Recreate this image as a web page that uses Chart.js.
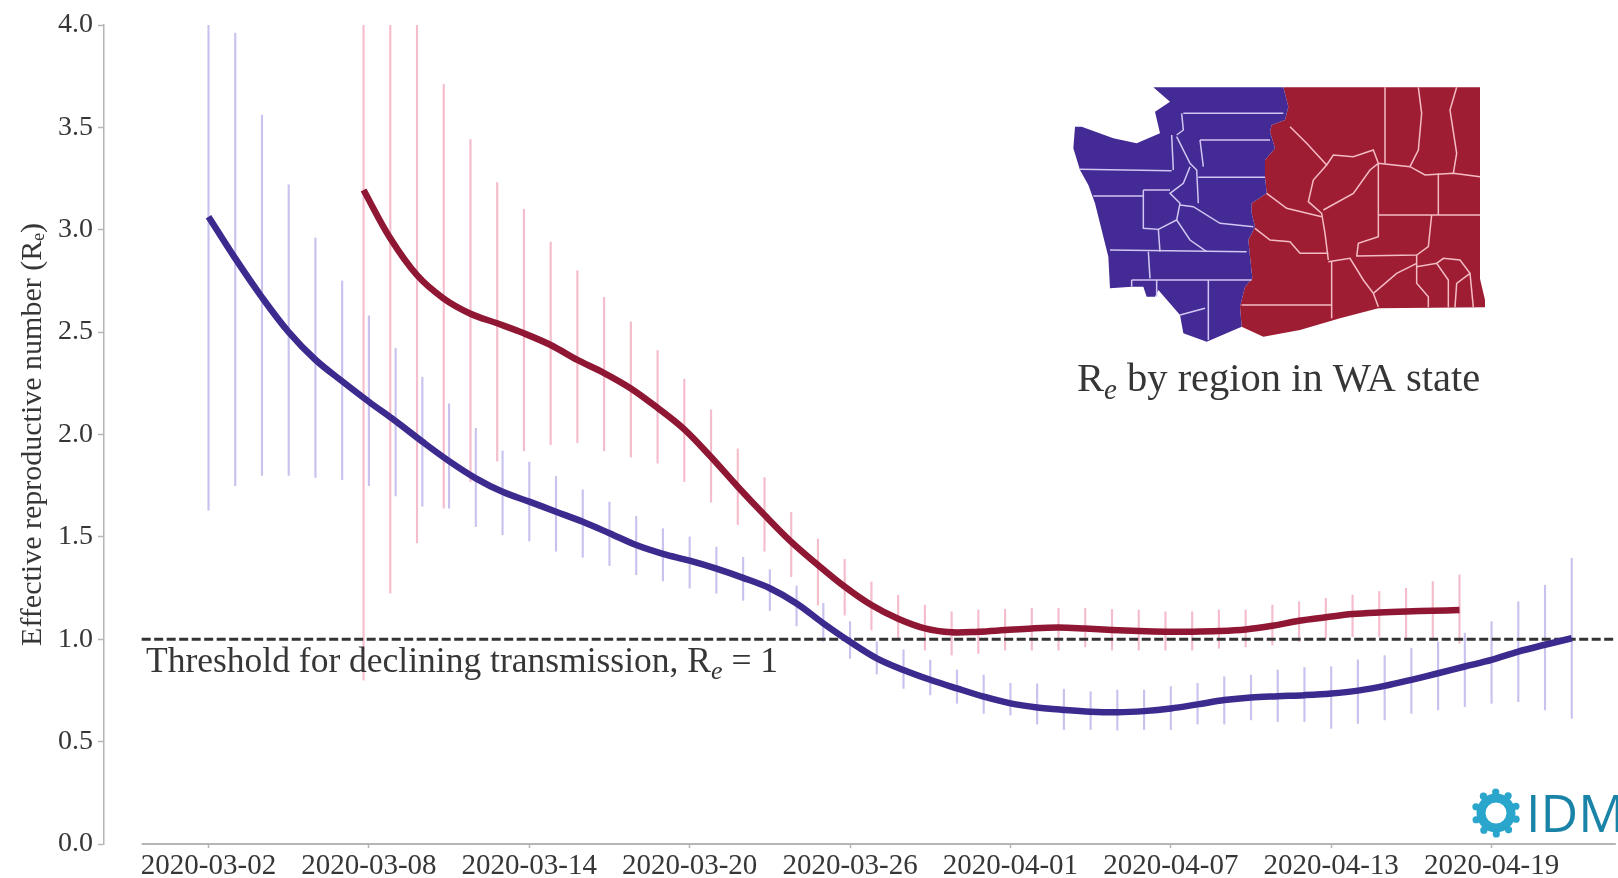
<!DOCTYPE html>
<html>
<head>
<meta charset="utf-8">
<title>Effective reproductive number by region in WA state</title>
<script src="https://cdn.jsdelivr.net/npm/chart.js@4/dist/chart.umd.min.js"></script>
<style>
html, body { margin: 0; padding: 0; background: #fff; overflow: hidden; }
canvas { display: block; filter: blur(0.7px); }
</style>
</head>
<body>
<canvas id="graph1" width="1618" height="878"></canvas>
<script>
// days since 2020-03-02 are used on the x axis
var tickDays = [0, 6, 12, 18, 24, 30, 36, 42, 48];
var tickLabels = ["2020-03-02", "2020-03-08", "2020-03-14", "2020-03-20", "2020-03-26", "2020-04-01", "2020-04-07", "2020-04-13", "2020-04-19"];
var yTicks = [0, 0.5, 1, 1.5, 2, 2.5, 3, 3.5, 4];

var blueStart = 0;
var blueMean = [3.064, 2.86, 2.67, 2.50, 2.365, 2.26, 2.16, 2.065, 1.965, 1.87, 1.786, 1.72, 1.672, 1.623, 1.574, 1.518, 1.46, 1.417, 1.384, 1.345, 1.30, 1.249, 1.175, 1.078, 0.988, 0.907, 0.85, 0.802, 0.76, 0.72, 0.687, 0.667, 0.655, 0.646, 0.643, 0.649, 0.662, 0.682, 0.703, 0.716, 0.722, 0.727, 0.735, 0.749, 0.772, 0.802, 0.834, 0.867, 0.899, 0.94, 0.973, 1.005];
var blueHigh = [4.0, 3.96, 3.56, 3.22, 2.96, 2.75, 2.58, 2.42, 2.28, 2.15, 2.03, 1.92, 1.865, 1.795, 1.73, 1.67, 1.60, 1.54, 1.50, 1.45, 1.40, 1.34, 1.26, 1.175, 1.086, 0.987, 0.948, 0.898, 0.85, 0.825, 0.785, 0.782, 0.756, 0.744, 0.752, 0.752, 0.769, 0.785, 0.817, 0.825, 0.85, 0.862, 0.866, 0.899, 0.92, 0.956, 0.987, 1.03, 1.086, 1.183, 1.264, 1.395];
var blueLow = [1.63, 1.75, 1.80, 1.80, 1.79, 1.78, 1.75, 1.70, 1.65, 1.64, 1.55, 1.51, 1.48, 1.43, 1.40, 1.36, 1.315, 1.285, 1.25, 1.225, 1.19, 1.14, 1.065, 0.99, 0.907, 0.83, 0.76, 0.728, 0.687, 0.638, 0.63, 0.586, 0.559, 0.559, 0.556, 0.559, 0.559, 0.586, 0.586, 0.606, 0.598, 0.598, 0.565, 0.589, 0.606, 0.638, 0.655, 0.671, 0.687, 0.695, 0.655, 0.614];

var redStart = 5.8;
var redMean = [3.194, 2.958, 2.778, 2.664, 2.59, 2.543, 2.494, 2.437, 2.364, 2.30, 2.225, 2.13, 2.025, 1.89, 1.745, 1.607, 1.476, 1.363, 1.257, 1.167, 1.10, 1.053, 1.034, 1.037, 1.045, 1.053, 1.057, 1.052, 1.045, 1.04, 1.037, 1.037, 1.04, 1.048, 1.066, 1.09, 1.107, 1.123, 1.131, 1.136, 1.139, 1.143];
var redHigh = [4.0, 4.0, 4.0, 3.71, 3.44, 3.23, 3.10, 2.94, 2.80, 2.67, 2.55, 2.41, 2.27, 2.12, 1.93, 1.79, 1.62, 1.49, 1.39, 1.28, 1.215, 1.167, 1.134, 1.143, 1.146, 1.151, 1.151, 1.151, 1.146, 1.143, 1.134, 1.134, 1.143, 1.143, 1.167, 1.183, 1.2, 1.216, 1.233, 1.249, 1.282, 1.314];
var redLow = [0.80, 1.225, 1.47, 1.64, 1.77, 1.87, 1.92, 1.95, 1.96, 1.92, 1.89, 1.86, 1.77, 1.67, 1.56, 1.43, 1.306, 1.167, 1.118, 1.045, 1.0, 0.947, 0.923, 0.931, 0.947, 0.947, 0.947, 0.963, 0.947, 0.947, 0.947, 0.947, 0.956, 0.963, 0.972, 0.988, 1.004, 1.013, 1.013, 1.004, 1.004, 0.98];

var threshold = 1;
var thresholdLabel = "Threshold for declining transmission, R";
var mapLabel = " by region in WA state";

// WA map outlines, traced in a 3x grid anchored at the map corner
var purpleShape = [[400,52],[790,52],[805,110],[795,150],[755,165],[750,185],[765,235],[735,270],[735,320],[740,370],[695,400],[695,430],[705,470],[685,510],[690,560],[697,625],[675,650],[660,710],[665,770],[560,815],[490,790],[480,735],[415,660],[405,680],[380,680],[370,650],[335,650],[270,655],[265,560],[225,400],[205,345],[180,300],[160,235],[165,170],[185,170],[280,205],[350,220],[420,190],[405,125],[450,95]];
var redShape = [[790,52],[1380,52],[1380,626],[1395,690],[1395,712],[1075,715],[960,745],[840,780],[730,800],[665,770],[660,710],[675,650],[697,625],[690,560],[685,510],[705,470],[695,430],[695,400],[740,370],[735,320],[735,270],[765,235],[750,185],[755,165],[795,150],[805,110]];
var purpleLines = [
    [[490,130],[790,130]], [[540,210],[750,210]], [[535,322],[735,322]], [[180,298],[455,302]], [[455,195],[460,300]],
    [[220,378],[370,378]], [[370,360],[450,360]], [[370,360],[370,475],[415,478],[420,545]], [[270,540],[680,545]],
    [[385,545],[390,625]], [[335,630],[695,630]], [[335,630],[335,650]], [[410,630],[410,680]], [[565,630],[565,810]],
    [[480,735],[555,715]], [[485,130],[490,180],[470,195]], [[470,200],[510,280],[530,300],[535,400]], [[540,210],[550,290]],
    [[510,290],[490,340],[450,370],[480,400],[470,450],[415,478]], [[470,450],[510,510],[560,545]], [[480,405],[520,410],[600,460],[700,470]]
];
var redLines = [
    [[1095,52],[1095,280]], [[1195,52],[1205,130],[1195,240],[1170,290]], [[1310,52],[1290,120],[1310,250],[1300,310]],
    [[810,170],[860,220],[920,285],[940,255],[1000,260],[1060,240],[1075,280],[1170,290],[1215,315],[1300,310],[1380,320]],
    [[920,285],[880,330],[865,395],[905,430],[915,490],[925,570]], [[1075,280],[1050,300],[1000,370],[910,420]],
    [[740,370],[800,415],[905,440]], [[705,475],[750,510],[810,515],[840,550],[925,550]],
    [[1075,280],[1075,500],[1015,520],[1010,560]], [[1075,435],[1380,435]], [[1255,310],[1255,435]],
    [[1235,435],[1225,530],[1190,555],[1010,558]], [[925,575],[990,565],[1030,630],[1060,670],[1075,710]],
    [[935,575],[935,745]], [[665,705],[935,705]], [[1060,670],[1130,610],[1190,580]], [[1190,555],[1190,640],[1225,680],[1225,712]],
    [[1190,590],[1250,580],[1285,630],[1285,712]], [[1250,580],[1270,565],[1320,570],[1350,610],[1310,640],[1305,712]], [[1350,610],[1360,712]]
];

var SERIF = '"Liberation Serif", serif';
var TEXT = "#363636";
var PURPLE = "#3d2a8e";
var RED = "#8f1733";

function lineRows(start, values) {
    var rows = [];
    for (var i = 0; i < values.length; i++) rows.push({x: start + i, y: values[i]});
    return rows;
}
function barRows(start, low, high) {
    var rows = [];
    for (var i = 0; i < low.length; i++) rows.push({x: start + i, y: [low[i], high[i]]});
    return rows;
}

function tracePath(ctx, pts) {
    ctx.beginPath();
    for (var i = 0; i < pts.length; i++) {
        var px = 1020 + pts[i][0] / 3, py = 70 + pts[i][1] / 3;
        if (i == 0) ctx.moveTo(px, py); else ctx.lineTo(px, py);
    }
}

// R with the small italic e, then the rest of the string
function drawRe(ctx, x, y, size, before, after) {
    ctx.fillStyle = TEXT;
    ctx.textAlign = "left";
    ctx.textBaseline = "alphabetic";
    ctx.font = size + "px " + SERIF;
    ctx.fillText(before, x, y);
    x += ctx.measureText(before).width;
    ctx.font = "italic " + Math.round(size * 0.72) + "px " + SERIF;
    ctx.fillText("e", x, y + size * 0.2);
    x += ctx.measureText("e").width;
    ctx.font = size + "px " + SERIF;
    ctx.fillText(after, x, y);
}

var extras = {
    id: "extras",
    afterDraw: function (chart) {
        var ctx = chart.ctx;
        ctx.save();

        // map
        ctx.fillStyle = "#9f1d33";
        tracePath(ctx, redShape); ctx.closePath(); ctx.fill();
        ctx.fillStyle = "#432a94";
        tracePath(ctx, purpleShape); ctx.closePath(); ctx.fill();
        ctx.lineWidth = 1.5;
        ctx.strokeStyle = "#d3c6f2";
        purpleLines.forEach(function (l) { tracePath(ctx, l); ctx.stroke(); });
        ctx.strokeStyle = "#f3bcc4";
        redLines.forEach(function (l) { tracePath(ctx, l); ctx.stroke(); });

        drawRe(ctx, 1077, 391, 40.5, "R", mapLabel);
        drawRe(ctx, 146, chart.scales.y.getPixelForValue(threshold) + 33, 35.5, thresholdLabel, " = 1");

        // IDM logo
        var cx = 1496, cy = 813;
        ctx.strokeStyle = "#2aa5cc";
        ctx.fillStyle = "#2aa5cc";
        ctx.lineWidth = 9;
        ctx.beginPath(); ctx.arc(cx, cy, 15, 0, Math.PI * 2); ctx.stroke();
        for (var i = 0; i < 10; i++) {
            var a = i * Math.PI / 5 + 0.3;
            ctx.beginPath(); ctx.arc(cx + Math.cos(a) * 21, cy + Math.sin(a) * 21, 3.6, 0, Math.PI * 2); ctx.fill();
        }
        ctx.fillStyle = "#1a84a8";
        ctx.textAlign = "left";
        ctx.textBaseline = "alphabetic";
        ctx.font = '52px "Open Sans", sans-serif';
        ctx.fillText("IDM", 1526, 832);

        ctx.restore();
    }
};

var ctx1 = document.getElementById("graph1");
new Chart(ctx1, {
    type: "bar",
    data: {
        datasets: [
            {data: barRows(blueStart, blueLow, blueHigh), backgroundColor: "#c8c3ee", barThickness: 1.5, grouped: false, order: 5},
            {data: barRows(redStart, redLow, redHigh), backgroundColor: "#f5bccb", barThickness: 1.5, grouped: false, order: 4},
            {type: "line", data: [{x: -2.5, y: 0}, {x: 52.65, y: 0}], borderColor: "#b5b5b5", borderWidth: 2, pointRadius: 0, clip: false, order: 3},
            {type: "line", data: [{x: -2.5, y: threshold}, {x: 52.65, y: threshold}], borderColor: "#333", borderWidth: 3, borderDash: [9, 3.5], pointRadius: 0, order: 2},
            {type: "line", data: lineRows(blueStart, blueMean), borderColor: PURPLE, borderWidth: 6.5, tension: 0.35, pointRadius: 0, order: 1},
            {type: "line", data: lineRows(redStart, redMean), borderColor: RED, borderWidth: 6.5, tension: 0.35, pointRadius: 0, order: 0}
        ]
    },
    options: {
        responsive: false,
        animation: false,
        layout: {padding: {top: 25, right: 0, bottom: 0, left: 0}},
        plugins: {legend: {display: false}, tooltip: {enabled: false}},
        scales: {
            x: {
                type: "linear",
                offset: false,
                min: -3.91,
                max: 52.73,
                border: {display: false},
                grid: {offset: false, drawOnChartArea: false, tickLength: 4, tickColor: "#b5b5b5", tickWidth: 1.5},
                afterBuildTicks: function (axis) { axis.ticks = tickDays.map(function (d) { return {value: d}; }); },
                afterFit: function (axis) { axis.height = 34; },
                ticks: {
                    autoSkip: false,
                    maxRotation: 0,
                    padding: 1,
                    color: TEXT,
                    font: {family: SERIF, size: 29},
                    callback: function (value) { return tickLabels[tickDays.indexOf(value)]; }
                }
            },
            y: {
                min: 0,
                max: 4,
                border: {color: "#b5b5b5", width: 1.5},
                grid: {drawOnChartArea: false, tickLength: 6, tickColor: "#b5b5b5", tickWidth: 1.5},
                afterBuildTicks: function (axis) { axis.ticks = yTicks.map(function (v) { return {value: v}; }); },
                afterFit: function (axis) { axis.width = 104; },
                title: {display: true, text: "Effective reproductive number (R\u2091)", color: TEXT, font: {family: SERIF, size: 30}, padding: {top: 15, bottom: 0}},
                ticks: {
                    padding: 5,
                    color: TEXT,
                    font: {family: SERIF, size: 28},
                    callback: function (value) { return value.toFixed(1); }
                }
            }
        }
    },
    plugins: [extras]
});
</script>
</body>
</html>
